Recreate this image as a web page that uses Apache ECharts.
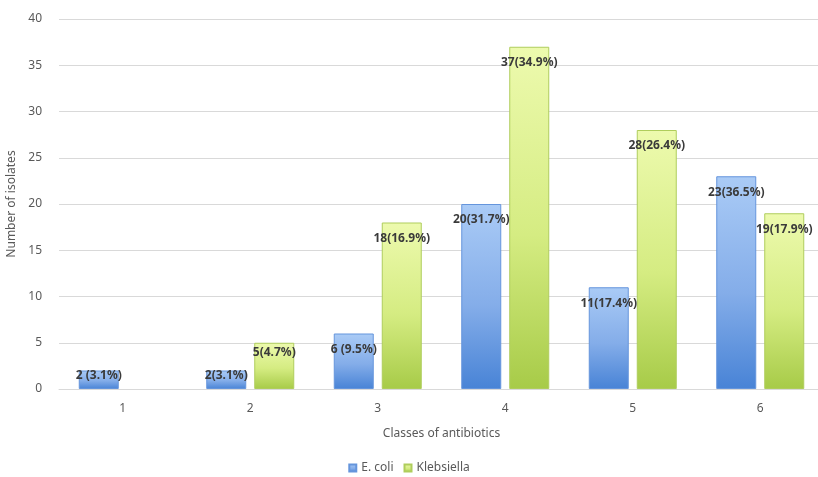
<!DOCTYPE html>
<html>
<head>
<meta charset="utf-8">
<script src="https://cdn.jsdelivr.net/npm/echarts@6/dist/echarts.min.js"></script>
<style>
  html, body { margin: 0; padding: 0; background: #ffffff; }
  #chart { width: 818px; height: 477px; }
</style>
</head>
<body>
<div id="chart"></div>
<script>
// Isolates resistant to N classes of antibiotics
const classes = ['1', '2', '3', '4', '5', '6'];
const eColi = [2, 2, 6, 20, 11, 23];
const eColiLabels = ['2 (3.1%)', '2(3.1%)', '6 (9.5%)', '20(31.7%)', '11(17.4%)', '23(36.5%)'];
const klebsiella = [0, 5, 18, 37, 28, 19];
const klebsiellaLabels = ['', '5(4.7%)', '18(16.9%)', '37(34.9%)', '28(26.4%)', '19(17.9%)'];
const yTicks = [0, 5, 10, 15, 20, 25, 30, 35, 40];

const FONT = 'Noto Sans';

// short bars keep their label hugging the top edge
function labelDistance(v) {
  if (v <= 2) return -1;
  if (v <= 5) return 4;
  return 10;
}

function barData(values, labels) {
  return values.map((v, i) => ({
    value: v,
    itemStyle: v > 0 ? undefined : { borderWidth: 0, opacity: 0 },
    label: { show: v > 0, distance: labelDistance(v), formatter: labels[i] }
  }));
}

const blueFill = new echarts.graphic.LinearGradient(0, 0, 0, 1, [
  { offset: 0, color: '#aacbf6' },
  { offset: 0.55, color: '#84ade9' },
  { offset: 1, color: '#4883d6' }
]);
const greenFill = new echarts.graphic.LinearGradient(0, 0, 0, 1, [
  { offset: 0, color: '#edfaae' },
  { offset: 0.55, color: '#d5ec82' },
  { offset: 1, color: '#a7cb48' }
]);

const labelStyle = {
  position: 'insideTop',
  color: '#3a3a3a',
  fontFamily: FONT,
  fontWeight: 'bold',
  fontSize: 12
};

const chart = echarts.init(document.getElementById('chart'), null, { renderer: 'canvas' });
chart.setOption({
  animation: false,
  backgroundColor: '#ffffff',
  grid: { left: 59, width: 765, top: 19, bottom: 88, containLabel: false, outerBoundsMode: 'none' },
  legend: {
    bottom: 3,
    padding: 0,
    left: 'center',
    itemWidth: 7,
    itemHeight: 7,
    itemGap: 10,
    icon: 'rect',
    textStyle: { color: '#595959', fontFamily: FONT, fontSize: 12 },
    data: ['E. coli', 'Klebsiella']
  },
  xAxis: {
    type: 'category',
    data: classes,
    name: 'Classes of antibiotics',
    nameLocation: 'middle',
    nameGap: 39,
    nameTextStyle: { color: '#595959', fontFamily: FONT, fontSize: 12 },
    axisLine: { lineStyle: { color: '#d9d9d9' } },
    axisTick: { show: false },
    axisLabel: { color: '#595959', fontFamily: FONT, fontSize: 12, margin: 14 }
  },
  yAxis: {
    type: 'value',
    min: yTicks[0],
    max: yTicks[yTicks.length - 1],
    interval: yTicks[1] - yTicks[0],
    name: 'Number of isolates',
    nameLocation: 'middle',
    nameGap: 40,
    nameTextStyle: { color: '#595959', fontFamily: FONT, fontSize: 12 },
    axisLine: { show: false },
    axisTick: { show: false },
    axisLabel: { color: '#595959', fontFamily: FONT, fontSize: 12, margin: 17 },
    splitLine: { lineStyle: { color: '#d9d9d9' } }
  },
  series: [
    {
      name: 'E. coli',
      type: 'bar',
      barWidth: 40,
      barGap: '20%',
      data: barData(eColi, eColiLabels),
      itemStyle: { color: blueFill, borderColor: '#6595dc', borderWidth: 1 },
      label: labelStyle
    },
    {
      name: 'Klebsiella',
      type: 'bar',
      barWidth: 40,
      barGap: '20%',
      data: barData(klebsiella, klebsiellaLabels),
      itemStyle: { color: greenFill, borderColor: '#afcd5c', borderWidth: 1 },
      label: labelStyle
    }
  ]
});
</script>
</body>
</html>
